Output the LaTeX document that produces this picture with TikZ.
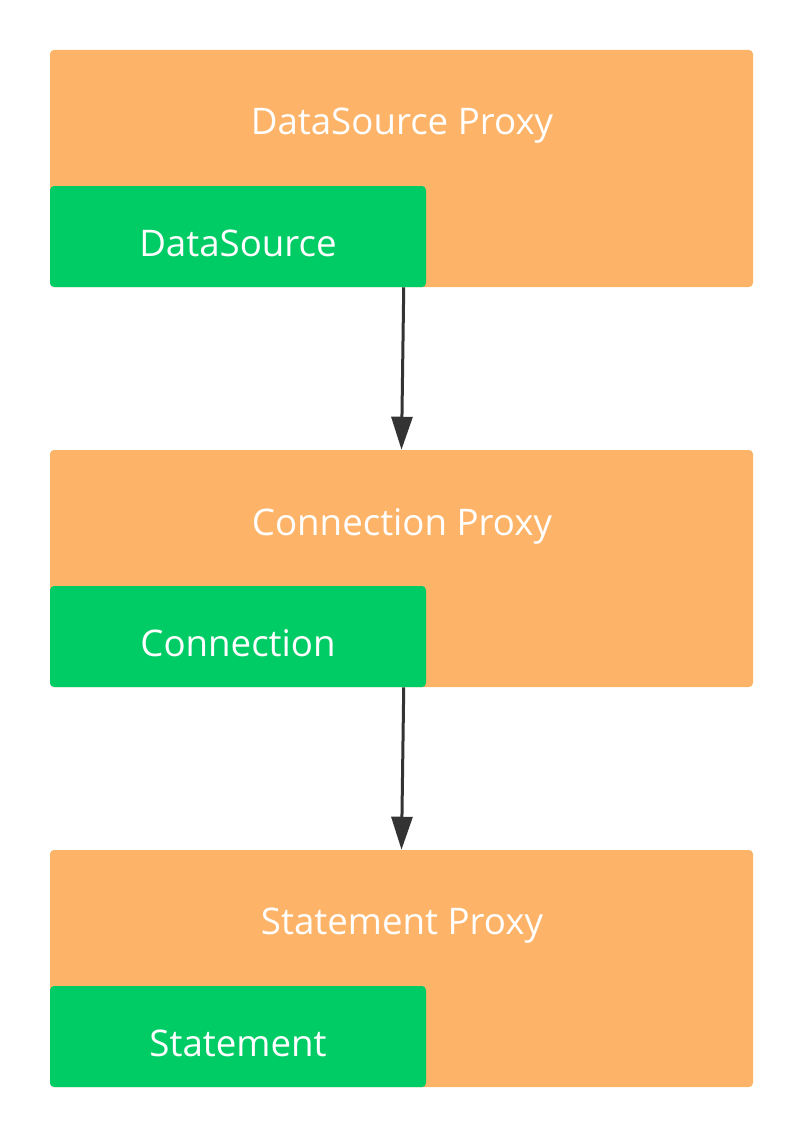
\documentclass[tikz,border=0pt]{standalone}
\usepackage{fontspec}
\setmainfont{Open Sans}
\usepackage{xcolor}
\usetikzlibrary{arrows.meta}

\definecolor{proxyorange}{HTML}{FDB469}
\definecolor{realgreen}{HTML}{00CC66}
\definecolor{arrowgray}{HTML}{333333}

\tikzset{
  proxy/.style={fill=proxyorange, rounded corners=3pt, minimum width=527.25pt, minimum height=177.75pt, inner sep=0pt},
  real/.style={fill=realgreen, rounded corners=3pt, minimum width=282pt, minimum height=75.75pt, inner sep=0pt},
  title/.style={text=white, font=\fontsize{27.5}{32}\selectfont, inner sep=0pt},
  flow/.style={arrowgray, line width=2.25pt, -{Triangle[length=24.75pt, width=15.75pt]}}
}

\begin{document}
\begin{tikzpicture}[x=0.75pt, y=-0.75pt]
\useasboundingbox (0,0) rectangle (804,1138);
%% proxies
\node [proxy] (dsp) at (401.5,168.5) {};
\node [proxy] (cnp) at (401.5,568.5) {};
\node [proxy] (stp) at (401.5,968.5) {};
\node [title] (dspt) at (402,126) {DataSource Proxy};
\node [title] (cnpt) at (402,526) {Connection Proxy};
\node [title] (stpt) at (402,926) {Statement Proxy};
%% real objects
\node [real] (ds) at (238,236.5) {};
\node [real] (cn) at (238,636.5) {};
\node [real] (st) at (238,1036.5) {};
\node [title] (dst) at (238,243) {DataSource};
\node [title] (cnt) at (238,643) {Connection};
\node [title] (stt) at (238,1043) {Statement};
%draw calls
\draw [flow] ([xshift=-16.9pt]ds.south east) -- (cnp.north);
\draw [flow] ([xshift=-16.9pt]cn.south east) -- (stp.north);
\end{tikzpicture}
\end{document}
